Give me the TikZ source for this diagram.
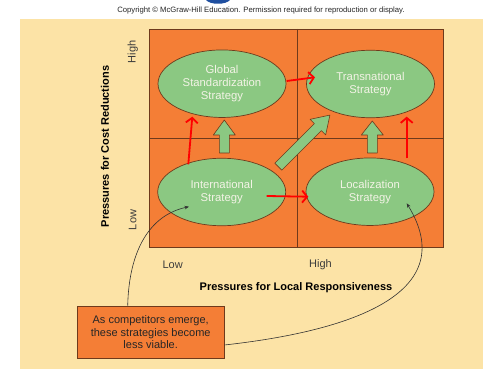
\documentclass[tikz,border=0pt]{standalone}
\usepackage{fontspec}
\setmainfont{Liberation Sans}
\usetikzlibrary{shapes.geometric,arrows.meta,calc}
\definecolor{bgbeige}{HTML}{FCE3A6}
\definecolor{cellorange}{HTML}{F47E36}
\definecolor{stratgreen}{HTML}{8BC882}
\definecolor{edgebrown}{HTML}{6E3A1C}
\definecolor{paletext}{HTML}{F3F3E6}
\definecolor{axisgrey}{HTML}{3C3C3C}
\definecolor{logoblue}{HTML}{1F4FA0}
\tikzset{
  strat/.style={ellipse, draw=edgebrown, line width=0.7pt, fill=stratgreen,
    minimum width=128pt, minimum height=67.5pt, inner sep=0pt, align=center,
    text=paletext, font=\fontsize{11.3}{13}\selectfont},
  blockarrow/.style={draw=edgebrown, line width=0.6pt, fill=stratgreen, line join=round},
  redarrow/.style={draw=red, line width=1.8pt, -{Straight Barb[length=5pt,width=12pt]}},
  notecurve/.style={draw=black!80, line width=0.6pt, -{Stealth[length=4.5pt,width=3.5pt]}},
  axislabel/.style={text=axisgrey, font=\fontsize{11}{13}\selectfont, inner sep=0pt},
  axistitle/.style={text=black, font=\fontsize{11}{13}\selectfont\bfseries, inner sep=0pt},
  notebox/.style={draw=edgebrown, line width=0.7pt, fill=cellorange, minimum width=146.7pt,
    minimum height=52.3pt, align=center, inner sep=0pt, text=black!85,
    font=\fontsize{11}{12.7}\selectfont}
}
\begin{document}
\begin{tikzpicture}[x=1pt,y=-1pt]
\useasboundingbox (0,0) rectangle (483,369);
% background
\fill[white] (0,0) rectangle (483,369);
\fill[bgbeige] (20,19) rectangle (483,369);
\fill[logoblue] (206,0) .. controls (210,5) and (226,5) .. (230,0) -- cycle;
\node[inner sep=0pt, font=\fontsize{7.7}{9}\selectfont, text=black!85] (copy) at (261,11)
  {Copyright © McGraw-Hill Education. Permission required for reproduction or display.};
% grid
\fill[cellorange] (149,29) rectangle (443,247);
\draw[edgebrown, line width=0.7pt] (149,29) rectangle (443,247);
\draw[edgebrown, line width=0.7pt] (297,29) -- (297,247);
\draw[edgebrown, line width=0.7pt] (149,138.3) -- (443,138.3);
% strategies
\node[strat] (glob) at (222,83.7) {Global\\Standardization\\Strategy};
\node[strat] (trans) at (370.5,84) {Transnational\\Strategy};
\node[strat] (intl) at (221.7,192) {International\\Strategy};
\node[strat] (local) at (370,191.7) {Localization\\Strategy};
% block arrows
\path[blockarrow] (219.3,153) -- (219.3,135) -- (213.3,135) -- (224.3,120) -- (235.3,135) -- (229.3,135) -- (229.3,153) -- cycle;
\path[blockarrow] (367.3,153) -- (367.3,135) -- (361.3,135) -- (372.3,121) -- (383.3,135) -- (377.3,135) -- (377.3,153) -- cycle;
\begin{scope}[shift={(278.3,166.7)}, rotate=45]
\path[blockarrow] (0,-5) -- (56,-5) -- (56,-11) -- (73,0) -- (56,11) -- (56,5) -- (0,5) -- cycle;
\end{scope}
% red arrows
\draw[redarrow] ($(glob.center)+(64.7,-2.7)$) -- ($(trans.center)+(-55.5,-6.7)$);
\draw[redarrow] ($(intl.center)+(-33.4,-27.7)$) -- ($(glob.center)+(-29.7,33)$);
\draw[redarrow] ($(intl.center)+(45,4)$) -- ($(local.center)+(-61.7,5)$);
\draw[redarrow] ($(local.center)+(36.7,-33.4)$) -- ($(trans.center)+(36.2,32.7)$);
% axis labels
\node[axistitle, rotate=90] (ytitle) at (105,146.5) {Pressures for Cost Reductions};
\node[axislabel, rotate=90] (yhigh) at (132.7,51.7) {High};
\node[axislabel, rotate=90] (ylow) at (132.7,220) {Low};
\node[axislabel] (xlow) at (172.7,265) {Low};
\node[axislabel] (xhigh) at (320.5,265) {High};
\node[axistitle] (xtitle) at (296,287.3) {Pressures for Local Responsiveness};
% note box
\node[notebox] (note) at (150.7,332.2) {As competitors emerge,\\these strategies become\\less viable.};
\draw[notecurve] ($(note.north)+(-23,0)$) .. controls (129,250) and (150,215) .. ($(intl.center)+(-32.7,14.7)$);
\draw[notecurve] ($(note.east)+(0,12.8)$) .. controls (360,330) and (460,290) .. ($(local.center)+(36.7,11.6)$);
\end{tikzpicture}
\end{document}
